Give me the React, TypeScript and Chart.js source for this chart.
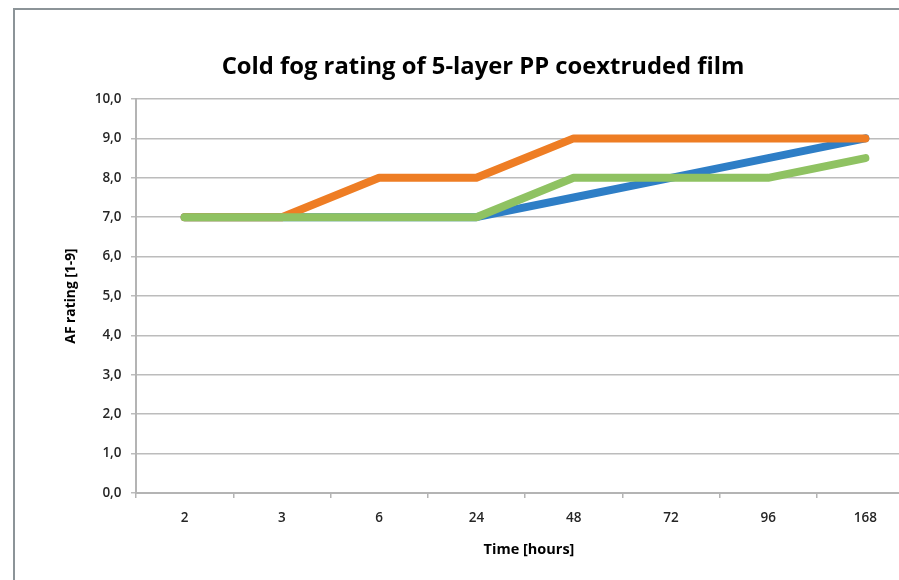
import React, { useEffect, useRef } from 'react';
import { Chart, registerables } from 'chart.js';

Chart.register(...registerables);

const titleText = 'Cold fog rating of 5-layer PP coextruded film';
const xAxisTitle = 'Time [hours]';
const yAxisTitle = 'AF rating [1-9]';

const categories = ['2', '3', '6', '24', '48', '72', '96', '168'];
const seriesBlue = [7, 7, 7, 7, 7.5, 8, 8.5, 9];
const seriesOrange = [7, 7, 8, 8, 9, 9, 9, 9];
const seriesGreen = [7, 7, 7, 7, 8, 8, 8, 8.5];
const yTickLabels = ['0,0', '1,0', '2,0', '3,0', '4,0', '5,0', '6,0', '7,0', '8,0', '9,0', '10,0'];

const FONT = '"Open Sans", Lato, sans-serif';
const W = 899;
const H = 580;
const PLOT_LEFT = 136;
const CATEGORY_WIDTH = 97.25; // plot area continues past the visible edge
const X_MIN = -0.5;
const X_MAX = X_MIN + (W - PLOT_LEFT) / CATEGORY_WIDTH;

const framePlugin = {
  id: 'framePlugin',
  beforeDraw(chart: any) {
    const ctx = chart.ctx;
    ctx.save();
    ctx.fillStyle = '#ffffff';
    ctx.fillRect(0, 0, chart.width, chart.height);
    ctx.strokeStyle = '#8c9498';
    ctx.lineWidth = 2;
    ctx.beginPath();
    ctx.moveTo(14, chart.height + 10);
    ctx.lineTo(14, 9);
    ctx.lineTo(chart.width + 10, 9);
    ctx.stroke();
    ctx.restore();
  },
  afterDraw(chart: any) {
    const ctx = chart.ctx;
    ctx.save();
    ctx.fillStyle = '#000000';
    ctx.textAlign = 'center';
    ctx.textBaseline = 'middle';
    ctx.font = `bold 23.8px ${FONT}`;
    ctx.fillText(titleText, 483, 67);
    ctx.font = `bold 14.5px ${FONT}`;
    ctx.fillText(xAxisTitle, 529, 550);
    ctx.restore();
  },
};

const toPoints = (arr: number[]) => arr.map((y, i) => ({ x: i, y }));

export default function App() {
  const canvasRef = useRef<HTMLCanvasElement | null>(null);

  useEffect(() => {
    if (!canvasRef.current) return;
    const lineStyle = {
      borderWidth: 8,
      pointRadius: 0,
      pointHoverRadius: 0,
      tension: 0,
      borderCapStyle: 'round' as const,
      borderJoinStyle: 'round' as const,
      fill: false,
    };
    const chart = new Chart(canvasRef.current, {
      type: 'line',
      data: {
        datasets: [
          { label: 'Green', data: toPoints(seriesGreen), borderColor: '#8fc262', backgroundColor: '#8fc262', ...lineStyle },
          { label: 'Orange', data: toPoints(seriesOrange), borderColor: '#ee7d24', backgroundColor: '#ee7d24', ...lineStyle },
          { label: 'Blue', data: toPoints(seriesBlue), borderColor: '#2e7ec6', backgroundColor: '#2e7ec6', ...lineStyle },
        ],
      },
      plugins: [framePlugin],
      options: {
        responsive: false,
        animation: false,
        devicePixelRatio: 1,
        layout: { padding: { top: 99, left: 0, right: 0, bottom: 0 } },
        plugins: {
          legend: { display: false },
          tooltip: { enabled: false },
          title: { display: false },
        },
        scales: {
          x: {
            type: 'linear',
            min: X_MIN,
            max: X_MAX,
            afterBuildTicks: (s: any) => {
              s.ticks = categories.map((_c, i) => ({ value: i }));
            },
            grid: {
              offset: true,
              drawOnChartArea: false,
              drawTicks: true,
              tickLength: 5,
              color: '#b4b4b4',
              lineWidth: 1.5,
            },
            border: { display: true, color: '#b4b4b4', width: 2 },
            ticks: {
              padding: 12,
              color: '#262626',
              font: { family: FONT, size: 13.5, weight: '600' },
              maxRotation: 0,
              autoSkip: false,
              callback: (v: any) => categories[Math.round(Number(v))],
            },
            title: { display: false },
            afterFit: (s: any) => {
              s.height = 87;
            },
          },
          y: {
            type: 'linear',
            position: 'left',
            min: 0,
            max: 10,
            ticks: {
              stepSize: 1,
              padding: 9.5,
              color: '#262626',
              font: { family: FONT, size: 13.5, weight: '600' },
              callback: (_v: any, i: number) => yTickLabels[i],
            },
            grid: {
              color: '#bcbcbc',
              lineWidth: 1.5,
              tickLength: 5,
              drawTicks: true,
            },
            border: { display: true, color: '#b4b4b4', width: 2 },
            title: {
              display: true,
              text: yAxisTitle,
              color: '#000000',
              font: { family: FONT, size: 13.8, weight: 'bold' },
              padding: { top: 62.5, bottom: 0 },
            },
            afterFit: (s: any) => {
              s.width = PLOT_LEFT;
            },
          },
        },
      },
    });
    return () => chart.destroy();
  }, []);

  return (
    <div style={{ position: 'fixed', left: 0, top: 0, width: W, height: H, background: '#ffffff' }}>
      <canvas ref={canvasRef} width={W} height={H} style={{ display: 'block', width: W, height: H }} />
    </div>
  );
}
